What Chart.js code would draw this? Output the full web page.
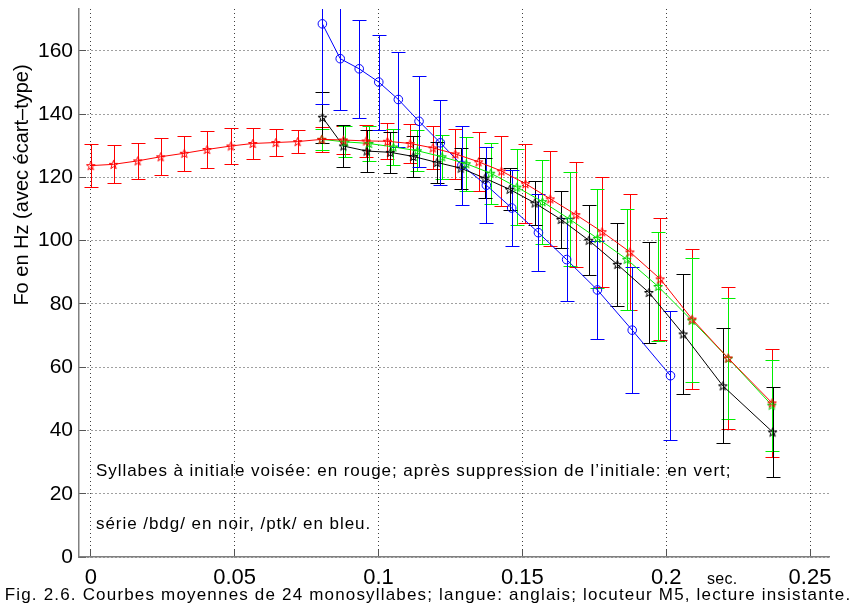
<!DOCTYPE html>
<html>
<head>
<meta charset="utf-8">
<script src="https://cdn.jsdelivr.net/npm/chart.js@4/dist/chart.umd.min.js"></script>
<style>
  body { margin: 0; background: #fff; }
  #wrap { width: 862px; height: 611px; }
</style>
</head>
<body>
<div id="wrap"><canvas id="fo" width="862" height="611"></canvas></div>
<script>
// ticks
const xTicks = [0, 0.05, 0.1, 0.15, 0.2, 0.25];
const xTickLabels = ["0", "0.05", "0.1", "0.15", "0.2", "0.25"];
const yTicks = [0, 20, 40, 60, 80, 100, 120, 140, 160];

// rouge : syllabes à initiale voisée
const redX = [0, 0.0079, 0.0163, 0.0243, 0.0325, 0.0404, 0.0487, 0.0563, 0.0643, 0.0719, 0.0803, 0.0878, 0.0957, 0.1031,
  0.1110, 0.1189, 0.1267, 0.1348, 0.1427, 0.1511, 0.1597, 0.1686, 0.1777, 0.1874, 0.1979, 0.2090, 0.2215, 0.2368];
const redY = [123.7, 124.1, 125.2, 126.5, 127.6, 128.8, 129.9, 130.7, 131.0, 131.3, 132.0, 131.8, 131.5, 131.4,
  130.7, 129.3, 127.4, 124.9, 122.0, 118.0, 113.2, 108.2, 102.8, 96.4, 87.9, 75.2, 62.9, 48.7];
const redSD = [6.7, 6.0, 5.8, 5.9, 5.6, 5.7, 5.6, 4.9, 4.4, 3.7, 4.0, 4.3, 5.1, 5.7,
  6.2, 6.8, 7.8, 9.3, 11.1, 12.4, 15.0, 16.7, 17.4, 18.3, 19.2, 22.0, 22.3, 17.0];

// vert : après suppression de l'initiale
const greenX = [0.0803, 0.0884, 0.0967, 0.1052, 0.1135, 0.1221, 0.1305, 0.1390, 0.1481, 0.1570, 0.1664, 0.1761,
  0.1863, 0.1972, 0.2089, 0.2216, 0.2367];
const greenY = [132.0, 131.2, 130.7, 129.6, 128.4, 126.5, 124.3, 121.3, 116.9, 112.3, 106.8, 100.7,
  94.1, 85.5, 74.8, 62.8, 48.0];
const greenSD = [3.4, 4.9, 5.4, 5.6, 6.4, 7.0, 8.5, 9.6, 12.0, 13.3, 14.8, 15.6, 16.0, 17.3, 19.6, 19.2, 14.4];

// noir : série /bdg/
const blackX = [0.0805, 0.0878, 0.0959, 0.1041, 0.1121, 0.1203, 0.1286, 0.1370, 0.1456, 0.1543, 0.1634, 0.1731,
  0.1830, 0.1940, 0.2059, 0.2197, 0.2370];
const blackY = [139.0, 129.9, 128.3, 127.9, 126.6, 124.7, 122.9, 119.7, 116.2, 111.9, 106.7, 100.1,
  92.5, 83.6, 70.5, 54.1, 39.5];
const blackSD = [8.0, 6.6, 6.6, 6.5, 6.5, 6.5, 6.5, 6.3, 6.6, 7.0, 9.0, 11.0, 13.2, 16.1, 19.1, 18.2, 14.2];

// bleu : série /ptk/
const blueX = [0.0805, 0.0867, 0.0933, 0.1001, 0.1069, 0.1141, 0.1215, 0.1290, 0.1375, 0.1463, 0.1556, 0.1654,
  0.1761, 0.1882, 0.2015];
const blueY = [168.5, 157.5, 154.3, 150.1, 144.6, 137.7, 130.9, 123.8, 117.5, 110.3, 102.5, 94.0, 84.4, 71.7, 57.3];
const blueSD = [25.4, 16.2, 15.5, 15.0, 15.0, 14.3, 13.4, 12.5, 12.0, 12.1, 12.1, 13.2, 15.4, 20.0, 20.4];

const FONT = "'Liberation Sans', Arial, sans-serif";

// petite étoile à 5 branches (comme le marqueur pentagram de matlab)
function starImage(color) {
  const c = document.createElement("canvas");
  c.width = c.height = 11;
  const g = c.getContext("2d");
  g.strokeStyle = color;
  g.lineWidth = 1;
  g.beginPath();
  for (let i = 0; i < 10; i++) {
    const r = i % 2 ? 1.8 : 4.6;
    const a = -Math.PI / 2 + i * Math.PI / 5;
    const px = 5.5 + r * Math.cos(a), py = 6 + r * Math.sin(a);
    if (i === 0) g.moveTo(px, py); else g.lineTo(px, py);
  }
  g.closePath();
  g.stroke();
  return c;
}

function series(xs, ys, sds, color, style, radius) {
  return {
    data: xs.map((x, i) => ({ x: x, y: ys[i] })),
    errors: sds,
    showLine: true,
    borderColor: color,
    borderWidth: 1,
    pointStyle: style,
    pointRadius: radius,
    pointBorderColor: color,
    pointBackgroundColor: "rgba(0,0,0,0)",
    pointBorderWidth: 1,
    tension: 0
  };
}

// barres d'écart-type
const errorBars = {
  id: "errorBars",
  beforeDatasetsDraw(chart) {
    const { ctx, chartArea, scales: { x, y } } = chart;
    ctx.save();
    ctx.beginPath();
    ctx.rect(chartArea.left, chartArea.top, chartArea.right - chartArea.left, chartArea.bottom - chartArea.top);
    ctx.clip();
    chart.data.datasets.forEach(ds => {
      ctx.strokeStyle = ds.borderColor;
      ctx.lineWidth = 1;
      ds.data.forEach((p, i) => {
        const sd = ds.errors[i];
        const px = Math.round(x.getPixelForValue(p.x)) + 0.5;
        const top = Math.round(y.getPixelForValue(p.y + sd)) + 0.5;
        const bot = Math.round(y.getPixelForValue(p.y - sd)) + 0.5;
        ctx.beginPath();
        ctx.moveTo(px, top);
        ctx.lineTo(px, bot);
        ctx.moveTo(px - 7, top);
        ctx.lineTo(px + 7, top);
        ctx.moveTo(px - 7, bot);
        ctx.lineTo(px + 7, bot);
        ctx.stroke();
      });
    });
    ctx.restore();
  }
};

// textes
const labels = {
  id: "labels",
  afterDraw(chart) {
    const ctx = chart.ctx;
    ctx.save();
    ctx.fillStyle = "#000";
    ctx.textBaseline = "alphabetic";
    ctx.textAlign = "left";
    ctx.font = "17px " + FONT;
    ctx.letterSpacing = "0.95px";
    ctx.fillText("Syllabes à initiale voisée: en rouge; après suppression de l’initiale: en vert;", 96, 476);
    ctx.fillText("série /bdg/ en noir, /ptk/ en bleu.", 96, 529);
    ctx.font = "16px " + FONT;
    ctx.letterSpacing = "0.3px";
    ctx.fillText("sec.", 707, 584);
    ctx.font = "17px " + FONT;
    ctx.letterSpacing = "1.18px";
    ctx.textAlign = "center";
    ctx.fillText("Fig. 2.6. Courbes moyennes de 24 monosyllabes; langue: anglais; locuteur M5, lecture insistante.", 428, 600);
    ctx.letterSpacing = "0px";
    ctx.translate(22, 185);
    ctx.rotate(-Math.PI / 2);
    ctx.textBaseline = "middle";
    ctx.font = "20px " + FONT;
    ctx.fillText("Fo en Hz (avec écart–type)", 0, 0);
    ctx.restore();
  }
};

const gridStyle = {
  color: "rgba(0,0,0,0.75)", lineWidth: 1,
  drawTicks: true, tickLength: -7, tickColor: "#555", tickWidth: 1
};
const borderStyle = { display: true, color: "#808080", width: 1.5, dash: [1, 3] };

new Chart(document.getElementById("fo"), {
  type: "scatter",
  data: {
    datasets: [
      series(redX, redY, redSD, "#ff0000", starImage("#ff0000"), 4),
      series(greenX, greenY, greenSD, "#00ee00", starImage("#00cc00"), 4),
      series(blackX, blackY, blackSD, "#000000", starImage("#000000"), 4),
      series(blueX, blueY, blueSD, "#0000ff", "circle", 4.3)
    ]
  },
  options: {
    responsive: false,
    animation: false,
    layout: { padding: { left: 0, top: 9, right: 33, bottom: 21 } },
    plugins: { legend: { display: false }, tooltip: { enabled: false } },
    scales: {
      x: {
        type: "linear",
        min: -0.0041,
        max: 0.2566,
        afterBuildTicks: s => { s.ticks = xTicks.map(v => ({ value: v })); },
        afterFit: s => { s.height = 33; s.paddingLeft = 0; s.paddingRight = 0; },
        ticks: {
          autoSkip: false, maxRotation: 0, padding: 15, color: "#000",
          font: { family: FONT, size: 22 },
          callback: (v, i) => xTickLabels[i]
        },
        grid: gridStyle,
        border: borderStyle
      },
      y: {
        min: 0,
        max: 173.2,
        afterBuildTicks: s => { s.ticks = yTicks.map(v => ({ value: v })); },
        afterFit: s => { s.width = 79; s.paddingTop = 0; s.paddingBottom = 0; },
        ticks: {
          autoSkip: false, padding: 13, color: "#000",
          font: { family: FONT, size: 21 },
          callback: v => String(v)
        },
        grid: gridStyle,
        border: borderStyle
      }
    }
  },
  plugins: [errorBars, labels]
});
</script>
</body>
</html>
